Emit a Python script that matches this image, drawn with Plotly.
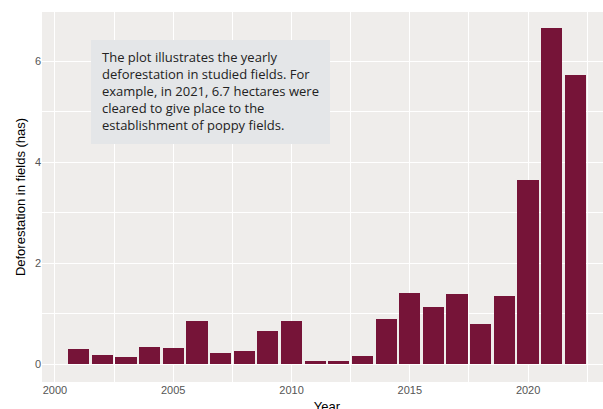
import plotly.graph_objects as go

years = list(range(2001, 2023))
deforestation = [0.30, 0.18, 0.14, 0.34, 0.32, 0.86, 0.22, 0.26, 0.66, 0.86,
                 0.065, 0.065, 0.165, 0.90, 1.41, 1.13, 1.39, 0.80, 1.35,
                 3.65, 6.66, 5.73]
x_ticks = [2000, 2005, 2010, 2015, 2020]
y_ticks = [0, 2, 4, 6]
note = ("The plot illustrates the yearly<br>deforestation in studied fields. For<br>"
        "example, in 2021, 6.7 hectares were<br>cleared to give place to the<br>"
        "establishment of poppy fields.")

W, H = 620, 420
L, T, R, B = 42, 12, 8, 38
pw, ph = W - L - R, H - T - B

fig = go.Figure()
fig.add_trace(go.Bar(x=years, y=deforestation, width=0.9,
                     marker=dict(color="#761438", line=dict(width=0)),
                     hoverinfo="x+y"))

fig.update_layout(
    width=W, height=H,
    margin=dict(l=L, r=R, t=T, b=B),
    paper_bgcolor="white",
    plot_bgcolor="#EFEDEB",
    showlegend=False,
    bargap=0,
    font=dict(family="Liberation Sans, Arial", size=11, color="#555555"),
)
fig.update_xaxes(
    range=[1999.455, 2023.545], automargin=False,
    tickvals=x_ticks, ticktext=[str(v) for v in x_ticks],
    showgrid=True, gridcolor="white", gridwidth=1.1,
    minor=dict(dtick=2.5, tick0=2002.5, showgrid=True, gridcolor="white", gridwidth=0.5),
    zeroline=False, showline=False, ticks="",
    tickfont=dict(size=11, color="#555555"),
    title=dict(text="Year", font=dict(size=13, color="black"), standoff=6),
)
fig.update_yaxes(
    range=[-0.35, 6.98], automargin=False,
    tickvals=y_ticks, ticktext=[str(v) for v in y_ticks],
    showgrid=True, gridcolor="white", gridwidth=1.1,
    minor=dict(dtick=1, tick0=0, showgrid=True, gridcolor="white", gridwidth=0.5),
    zeroline=False, showline=False, ticks="",
    tickfont=dict(size=11, color="#555555"),
    title=dict(text="Deforestation in fields (has)", font=dict(size=13, color="black"), standoff=6),
)

fig.add_shape(type="rect", xref="paper", yref="paper",
              x0=(91 - L) / pw, x1=(330 - L) / pw,
              y0=(T + ph - 144) / ph, y1=(T + ph - 40) / ph,
              fillcolor="#E4E6E8", line=dict(width=0), layer="above")
fig.add_annotation(xref="paper", yref="paper",
                   x=(100 - L) / pw, y=(T + ph - 46) / ph,
                   xanchor="left", yanchor="top", align="left",
                   showarrow=False, text=note,
                   font=dict(family="Open Sans", size=13, color="#222222"))

fig.write_html("out.html", config={"displayModeBar": False},
               post_script="document.body.style.margin='0';document.body.style.overflow='hidden';")
